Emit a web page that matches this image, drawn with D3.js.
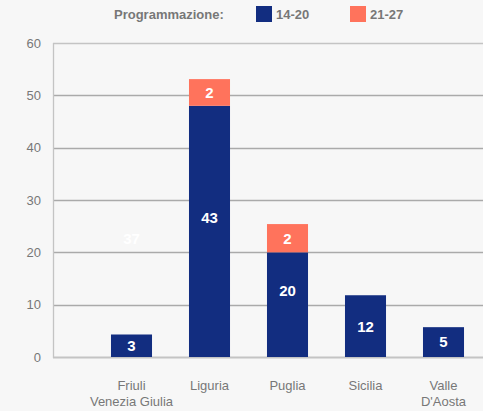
<!DOCTYPE html>
<html>
<head>
<meta charset="utf-8">
<script src="https://cdn.jsdelivr.net/npm/d3@7"></script>
<style>
  html, body { margin: 0; padding: 0; background: #f7f7f7; }
  svg { display: block; font-family: "Liberation Sans", Arial, sans-serif; }
</style>
</head>
<body>
<div id="chart"></div>
<script>
// data
let regions = ["Friuli\nVenezia Giulia", "Liguria", "Puglia", "Sicilia", "Valle\nD'Aosta"];
let values1420 = [4.3, 48, 20, 11.8, 5.7];
let values2127 = [36.8, 5.1, 5.4, 0, 0];
let shown2127 = [false, true, true, false, false];
let labels1420 = ["3", "43", "20", "12", "5"];
let labels2127 = ["37", "2", "2", "", ""];
let series = ["14-20", "21-27"];
let colors = ["#122d80", "#ff735c"];
let yTicks = [0, 10, 20, 30, 40, 50, 60];

let width = 483, height = 411;
let margin = {top: 43, right: 0, bottom: 54, left: 53};

let svg = d3.select("#chart")
  .append("svg")
    .attr("width", width)
    .attr("height", height);

// Y scale
let y = d3.scaleLinear()
    .domain([0, 60])
    .range([height - margin.bottom, margin.top]);

// X scale (bands start a bit right of the axis line)
let x = d3.scaleBand()
    .domain(regions)
    .range([92.5, width - 0.5])
    .paddingInner(0.474)
    .paddingOuter(0.237);

// grid lines
svg.append("g")
  .selectAll("line")
  .data(yTicks)
  .enter().append("line")
    .attr("x1", margin.left)
    .attr("x2", width)
    .attr("y1", d => Math.round(y(d)) + 0.5)
    .attr("y2", d => Math.round(y(d)) + 0.5)
    .attr("stroke", d => (d === 0 || d === 60) ? "#c4c4c4" : "#aaaaaa")
    .attr("stroke-width", d => d === 0 ? 2 : 1.3);

// left axis line
svg.append("line")
    .attr("x1", margin.left + 0.5).attr("x2", margin.left + 0.5)
    .attr("y1", y(60)).attr("y2", y(0) + 1)
    .attr("stroke", "#c4c4c4")
    .attr("stroke-width", 1.3);

// tick labels
svg.append("g")
  .selectAll("text")
  .data(yTicks)
  .enter().append("text")
    .attr("x", 41)
    .attr("y", d => y(d))
    .attr("dy", "0.35em")
    .attr("text-anchor", "end")
    .attr("font-size", 13)
    .attr("fill", "#777")
    .text(d => d);

// stacked segments
let stackData = regions.map((r, i) => ({
  region: r,
  segs: [
    {y0: 0, y1: values1420[i], color: colors[0], show: true},
    {y0: values1420[i], y1: values1420[i] + values2127[i], color: colors[1], show: shown2127[i]}
  ]
}));

let groups = svg.append("g")
  .selectAll("g")
  .data(stackData)
  .enter().append("g")
    .attr("transform", d => "translate(" + x(d.region) + ",0)");

groups.selectAll("rect")
  .data(d => d.segs.filter(s => s.show && s.y1 > s.y0))
  .enter().append("rect")
    .attr("x", 0)
    .attr("y", s => y(s.y1))
    .attr("width", x.bandwidth())
    .attr("height", s => y(s.y0) - y(s.y1))
    .attr("fill", s => s.color);

// labels: 14-20 in the middle of the visible stack, 21-27 in the middle of its segment
let labelData = [];
regions.forEach((r, i) => {
  let top = values1420[i] + (shown2127[i] ? values2127[i] : 0);
  labelData.push({region: r, v: top / 2, text: labels1420[i]});
  if (labels2127[i]) {
    labelData.push({region: r, v: values1420[i] + values2127[i] / 2, text: labels2127[i]});
  }
});

svg.append("g")
  .selectAll("text")
  .data(labelData)
  .enter().append("text")
    .attr("x", d => x(d.region) + x.bandwidth() / 2)
    .attr("y", d => y(d.v))
    .attr("dy", "0.36em")
    .attr("text-anchor", "middle")
    .attr("font-size", 15)
    .attr("font-weight", "bold")
    .attr("fill", "#fff")
    .text(d => d.text);

// category labels
let cat = svg.append("g")
  .selectAll("text")
  .data(regions)
  .enter().append("text")
    .attr("x", d => x(d) + x.bandwidth() / 2)
    .attr("y", 390)
    .attr("text-anchor", "middle")
    .attr("font-size", 13)
    .attr("fill", "#777");
cat.selectAll("tspan")
  .data(d => d.split("\n"))
  .enter().append("tspan")
    .attr("x", function() { return d3.select(this.parentNode).attr("x"); })
    .attr("dy", (d, i) => i === 0 ? 0 : 15.5)
    .text(d => d);

// legend
let legend = svg.append("g");
legend.append("text")
    .attr("x", 114).attr("y", 14).attr("dy", "0.35em")
    .attr("font-size", 13).attr("font-weight", "bold").attr("fill", "#777")
    .text("Programmazione:");
let legendX = [256, 350];
series.forEach((s, i) => {
  legend.append("rect")
      .attr("x", legendX[i]).attr("y", 6)
      .attr("width", 16).attr("height", 16)
      .attr("fill", colors[i]);
  legend.append("text")
      .attr("x", legendX[i] + 20).attr("y", 14).attr("dy", "0.35em")
      .attr("font-size", 13).attr("font-weight", "bold").attr("fill", "#777")
      .text(s);
});
</script>
</body>
</html>
